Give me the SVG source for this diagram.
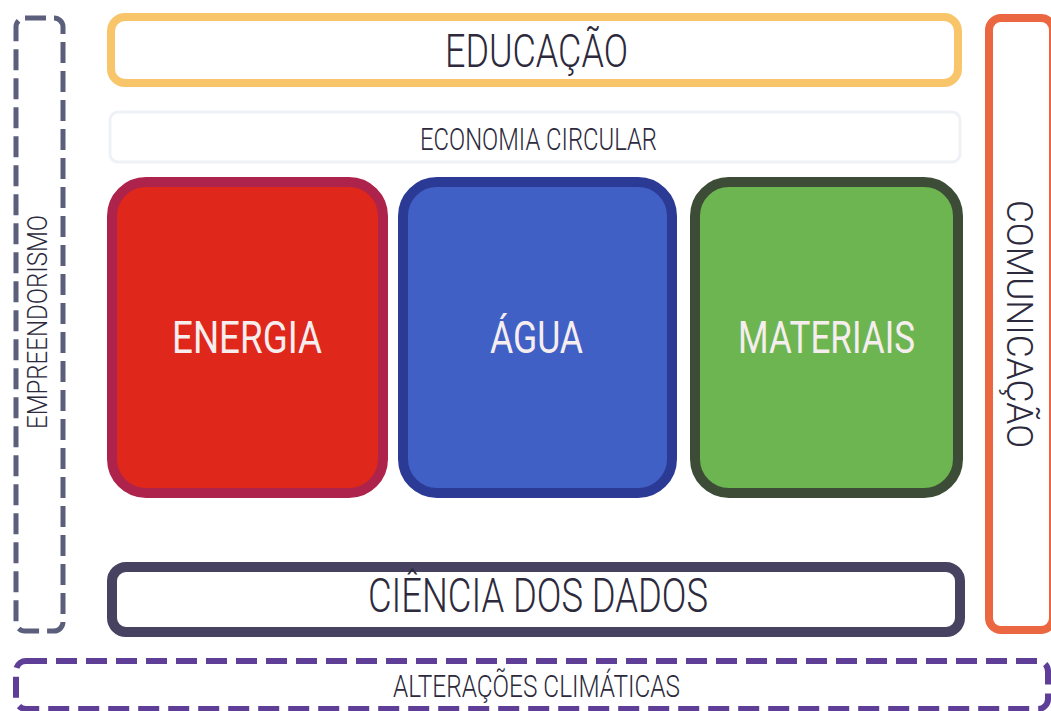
<svg xmlns="http://www.w3.org/2000/svg" width="1051" height="711" viewBox="0 0 1051 711">
<style>
.t{font-family:Roboto,"Liberation Sans",sans-serif;font-weight:300;text-anchor:middle;fill:#2c2a3c}
.w{fill:#f6eeee;font-weight:400}
.box{fill:none}
</style>
<rect width="1051" height="711" fill="#ffffff"/>
<g id="empreendorismo">
<rect class="box" x="16" y="18" width="47" height="613" rx="9" stroke="#5b5f7c" stroke-width="5" stroke-dasharray="21 8"/>
<text class="t" font-size="28" textLength="214" lengthAdjust="spacingAndGlyphs" transform="translate(47 322) rotate(-90)">EMPREENDORISMO</text>
</g>
<g id="educacao">
<rect class="box" x="111" y="17" width="847" height="66" rx="14" stroke="#f8c56a" stroke-width="8"/>
<text class="t" x="536.5" y="67" font-size="47" textLength="183" lengthAdjust="spacingAndGlyphs">EDUCAÇÃO</text>
</g>
<g id="economia-circular">
<rect class="box" x="110" y="112" width="850" height="50" rx="8" stroke="#eef1f6" stroke-width="3"/>
<text class="t" x="538.5" y="150" font-size="31" textLength="237" lengthAdjust="spacingAndGlyphs">ECONOMIA CIRCULAR</text>
</g>
<g id="energia">
<rect x="112" y="182" width="271" height="311" rx="34" fill="#df271c" stroke="#ad234c" stroke-width="10"/>
<text class="t w" x="247" y="353" font-size="44" textLength="150" lengthAdjust="spacingAndGlyphs">ENERGIA</text>
</g>
<g id="agua">
<rect x="403" y="182" width="269" height="311" rx="34" fill="#4160c6" stroke="#2b3a95" stroke-width="10"/>
<text class="t w" x="536.5" y="353" font-size="44" textLength="93" lengthAdjust="spacingAndGlyphs">ÁGUA</text>
</g>
<g id="materiais">
<rect x="695" y="182" width="263" height="311" rx="34" fill="#6db551" stroke="#3d4c36" stroke-width="10"/>
<text class="t w" x="826.5" y="353" font-size="44" textLength="177" lengthAdjust="spacingAndGlyphs">MATERIAIS</text>
</g>
<g id="ciencia-dos-dados">
<rect class="box" x="112" y="567" width="848" height="65" rx="14" stroke="#46425f" stroke-width="10"/>
<text class="t" x="538" y="612" font-size="49" textLength="340" lengthAdjust="spacingAndGlyphs">CIÊNCIA DOS DADOS</text>
</g>
<g id="comunicacao">
<rect class="box" x="989" y="18" width="64" height="612" rx="12" stroke="#eb6742" stroke-width="8"/>
<text class="t" font-size="36" textLength="248" lengthAdjust="spacingAndGlyphs" transform="translate(1007 324) rotate(90)">COMUNICAÇÃO</text>
</g>
<g id="alteracoes-climaticas">
<rect class="box" x="16" y="661" width="1032" height="48" rx="10" stroke="#5e3e97" stroke-width="6" stroke-dasharray="21 9"/>
<text class="t" x="536.5" y="697" font-size="31" textLength="287" lengthAdjust="spacingAndGlyphs">ALTERAÇÕES CLIMÁTICAS</text>
</g>
<g id="connectors"></g>
</svg>
